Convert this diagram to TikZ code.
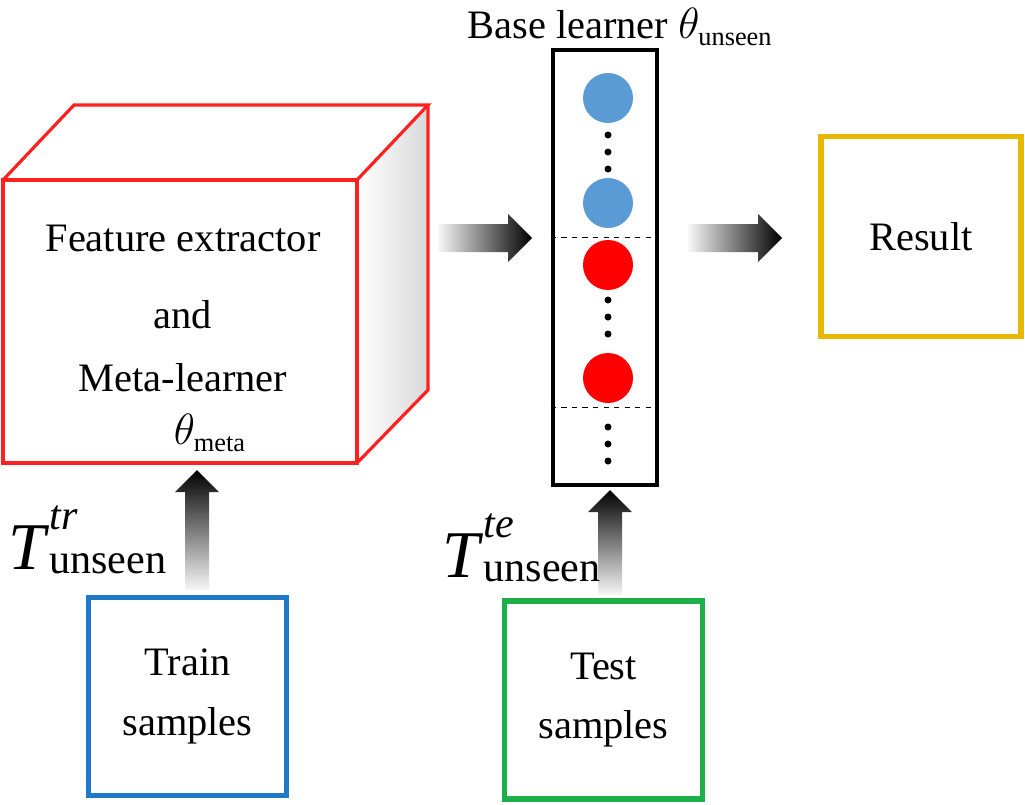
\documentclass[tikz,border=0pt]{standalone}
\usepackage{fontspec}
\setmainfont{Liberation Serif}
\usetikzlibrary{positioning}
\definecolor{boxred}{HTML}{FF2020}
\definecolor{boxblue}{HTML}{1F78C8}
\definecolor{boxgreen}{HTML}{1DB04A}
\definecolor{boxyellow}{HTML}{E6B800}
\definecolor{dotblue}{HTML}{5B9BD5}
\tikzset{
  lbl/.style={font=\fontsize{23}{28}\selectfont, align=center},
  sbox/.style={draw, line width=3pt, minimum width=3.96cm, minimum height=3.96cm, lbl},
}
% shaded block arrows
\newcommand\harrow[3]{\shade[left color=black!3,right color=black]
  (#1,#3) ++(0,-14) -- ++(#2-#1-24,0) -- ++(0,-10) -- ++(24,24) -- ++(-24,24)
  -- ++(0,-10) -- ++(#1-#2+24,0) -- cycle;}
\newcommand\varrow[3]{\shade[bottom color=black!3,top color=black]
  (#1,#2) ++(-12,0) -- ++(0,#3-#2+22) -- ++(-10,0) -- ++(22,-22) -- ++(22,22)
  -- ++(-10,0) -- ++(0,#2-#3-22) -- cycle;}
\newcommand\smallsub[1]{\hbox{\fontsize{15}{18}\selectfont #1}}
\newcommand\tlabel[1]{$\hbox{\fontsize{38}{40}\selectfont\textit{T}}%
  ^{\hbox{\fontsize{24}{26}\selectfont\textit{#1}}}_{\hbox{\fontsize{24}{26}\selectfont unseen}}$}
\begin{document}
\begin{tikzpicture}[x=0.02cm,y=-0.02cm]
  \useasboundingbox (0,0) rectangle (1025,805);

  % Cube
  \fill[left color=white,right color=black!15] (357,180) -- (428,105) -- (428,390) -- (357,463) -- cycle;
  \draw[boxred, line width=1.8pt] (3,180) -- (74,105) -- (428,105) -- (357,180);
  \draw[boxred, line width=1.8pt] (428,105) -- (428,390) -- (357,463);
  \node[draw=boxred, line width=1.8pt, minimum width=7.08cm, minimum height=5.66cm] (fe) at (180,321.5) {};
  \node[lbl] (fetext) at (183,238) {Feature extractor};
  \node[lbl] (and) at (183,315) {and};
  \node[lbl] (meta) at (183,378) {Meta-learner};
  \node[lbl] (thmeta) at (210,433) {$\theta_{\smallsub{meta}}$};

  % Base learner column
  \node[draw, line width=2.5pt, minimum width=2.08cm, minimum height=8.7cm] (col) at (605,267.5) {};
  \node[lbl, anchor=south, inner sep=1pt] (blabel) at ([xshift=0.3cm]col.north) {Base learner $\theta_{\smallsub{unseen}}$};
  \fill[dotblue] (608,98) circle (25);
  \fill[dotblue] (608,203) circle (25);
  \fill[red] (608,265) circle (25);
  \fill[red] (608,378) circle (25);
  \foreach \y in {135,152,169} \fill (608,\y) circle (3.5);
  \foreach \y in {300,317,334} \fill (608,\y) circle (3.5);
  \foreach \y in {427,444,461} \fill (608,\y) circle (3.5);
  \draw[dashed] (col.west |- 0,237) -- (col.east |- 0,237);
  \draw[dashed] (col.west |- 0,407) -- (col.east |- 0,407);

  % Result
  \node[sbox, draw=boxyellow, minimum width=4.0cm, minimum height=4.0cm] (res) at (921,236.5) {Result};

  % Sample boxes
  \node[sbox, draw=boxblue] (train) at (187.5,696.5) {Train\\[6pt]samples};
  \node[sbox, draw=boxgreen] (test) at (603.5,700) {Test\\[6pt]samples};

  % Arrows
  \harrow{438}{532}{238}
  \harrow{688}{782}{238}
  \varrow{197}{590}{470}
  \varrow{610}{595}{490}

  % Task labels
  \node[inner sep=0pt, anchor=west] (ttr) at (8,540) {\tlabel{tr}};
  \node[inner sep=0pt, anchor=west] (tte) at (442,548) {\tlabel{te}};
\end{tikzpicture}
\end{document}
